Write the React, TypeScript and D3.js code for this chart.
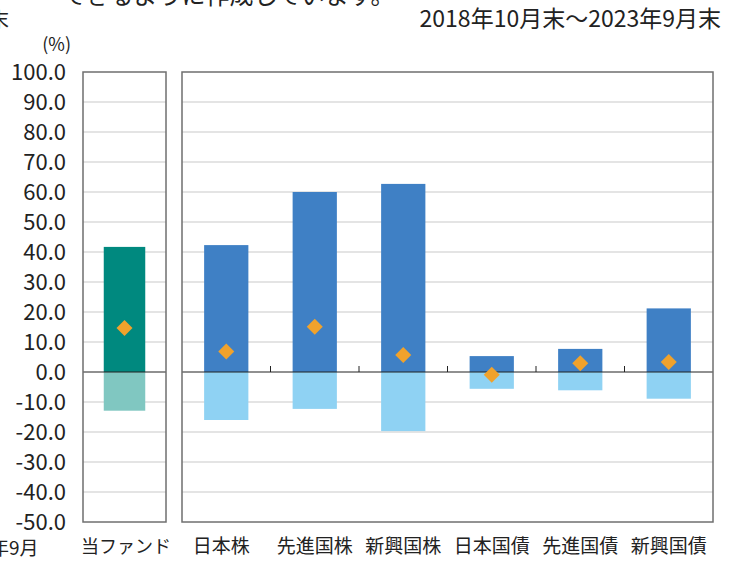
import React from 'react';
import * as d3 from 'd3';

// 当ファンドと代表的な資産クラスの騰落率（最大・最小・平均）
const fundLabel = ['当ファンド'];
const fundMax = [41.7];
const fundMin = [-12.9];
const fundAvg = [14.7];

const assetLabels = ['日本株', '先進国株', '新興国株', '日本国債', '先進国債', '新興国債'];
const assetMax = [42.3, 60.0, 62.7, 5.3, 7.7, 21.2];
const assetMin = [-16.0, -12.3, -19.7, -5.6, -6.1, -8.9];
const assetAvg = [6.8, 15.1, 5.7, -0.9, 2.9, 3.3];

const yTicks = [100, 90, 80, 70, 60, 50, 40, 30, 20, 10, 0, -10, -20, -30, -40, -50];

const W = 736, H = 561;
const top = 72, bottom = 522;
const font = '"Noto Sans CJK JP", "Noto Sans", sans-serif';

const colors = {
  fundUp: '#00897f', fundDown: '#80c7c1',
  assetUp: '#3f80c5', assetDown: '#8fd2f3',
  avg: '#f0a22c', grid: '#c9c9c9', frame: '#6f6f6f',
};

function Diamond({ cx, cy, r }: { cx: number; cy: number; r: number }) {
  return <path d={`M${cx},${cy - r}L${cx + r},${cy}L${cx},${cy + r}L${cx - r},${cy}Z`} fill={colors.avg} />;
}

export default function App() {
  const y = d3.scaleLinear().domain([-50, 100]).range([bottom, top]);

  const xFund = d3.scaleBand<string>().domain(fundLabel).range([83, 166]).paddingInner(0.5).paddingOuter(0.25);
  const xAsset = d3.scaleBand<string>().domain(assetLabels).range([182, 713]).paddingInner(0.5).paddingOuter(0.25);

  const panels = [
    { x0: 83, x1: 166 },
    { x0: 182, x1: 713 },
  ];

  const bounds = assetLabels.slice(1).map((_, i) => 182 + xAsset.step() * (i + 1));

  return (
    <svg width={W} height={H} style={{ position: 'fixed', left: 0, top: 0, background: '#fff' }} fontFamily={font}>
      {/* 切れた周囲のテキスト */}
      <text x={62} y={4} fontSize={24} fill="#222">できるように作成しています。</text>
      <text x={9} y={27} fontSize={20} fill="#222" textAnchor="end">末</text>
      <text x={-10} y={555} fontSize={19} fill="#222">年9月</text>

      <text x={721} y={27} fontSize={23} fill="#222" textAnchor="end">2018年10月末～2023年9月末</text>
      <text x={71} y={51} fontSize={18} fill="#222" textAnchor="end">(%)</text>

      {yTicks.map(t => (
        <text key={t} x={66} y={y(t)} dy="0.36em" fontSize={22} fill="#222" textAnchor="end">{t.toFixed(1)}</text>
      ))}

      {panels.map((p, i) => (
        <g key={i}>
          {yTicks.filter(t => t !== 100 && t !== -50 && t !== 0).map(t => (
            <line key={t} x1={p.x0} x2={p.x1} y1={y(t)} y2={y(t)} stroke={colors.grid} strokeWidth={1.2} />
          ))}
        </g>
      ))}

      {fundLabel.map((d, i) => (
        <g key={d}>
          <rect x={xFund(d)} width={xFund.bandwidth()} y={y(fundMax[i])} height={y(0) - y(fundMax[i])} fill={colors.fundUp} />
          <rect x={xFund(d)} width={xFund.bandwidth()} y={y(0)} height={y(fundMin[i]) - y(0)} fill={colors.fundDown} />
        </g>
      ))}
      {assetLabels.map((d, i) => (
        <g key={d}>
          <rect x={xAsset(d)} width={xAsset.bandwidth()} y={y(assetMax[i])} height={y(0) - y(assetMax[i])} fill={colors.assetUp} />
          <rect x={xAsset(d)} width={xAsset.bandwidth()} y={y(0)} height={y(assetMin[i]) - y(0)} fill={colors.assetDown} />
        </g>
      ))}

      {panels.map((p, i) => (
        <g key={i}>
          <line x1={p.x0} x2={p.x1} y1={y(0)} y2={y(0)} stroke="#222" strokeWidth={1.2} />
          <rect x={p.x0} y={top} width={p.x1 - p.x0} height={bottom - top} fill="none" stroke={colors.frame} strokeWidth={1.5} />
        </g>
      ))}
      {bounds.map(b => (
        <line key={b} x1={b} x2={b} y1={y(0)} y2={y(0) - 6} stroke="#222" strokeWidth={1} />
      ))}

      {fundLabel.map((d, i) => (
        <Diamond key={d} cx={(xFund(d) ?? 0) + xFund.bandwidth() / 2} cy={y(fundAvg[i])} r={8} />
      ))}
      {assetLabels.map((d, i) => (
        <Diamond key={d} cx={(xAsset(d) ?? 0) + xAsset.bandwidth() / 2} cy={y(assetAvg[i])} r={8} />
      ))}

      {fundLabel.map(d => (
        <text key={d} x={126} y={553} fontSize={18} fill="#222" textAnchor="middle">{d}</text>
      ))}
      {assetLabels.map(d => (
        <text key={d} x={(xAsset(d) ?? 0) + xAsset.bandwidth() / 2 - (d.length === 3 ? 5 : 0)} y={553} fontSize={19} fill="#222" textAnchor="middle">{d}</text>
      ))}
    </svg>
  );
}
